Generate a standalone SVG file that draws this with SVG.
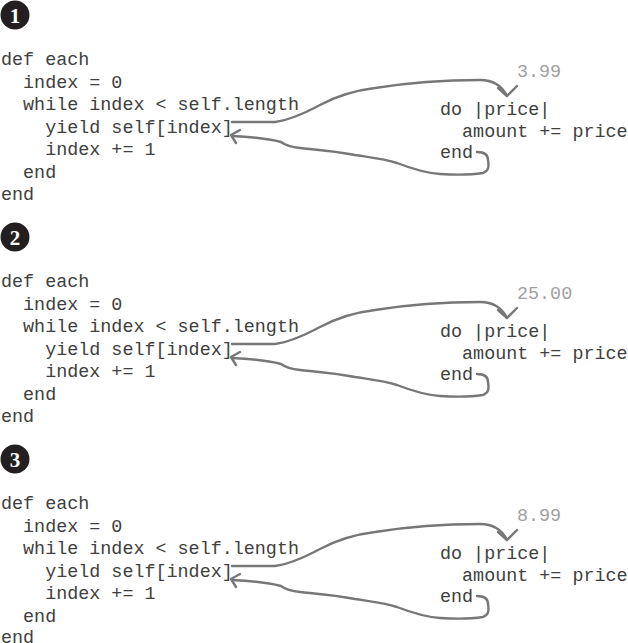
<svg xmlns="http://www.w3.org/2000/svg" width="628" height="643" viewBox="0 0 628 643">
<style>
.code{font-family:"Liberation Mono","Courier New",monospace;font-size:18.4px;fill:#404040}
.val{font-family:"Liberation Mono","Courier New",monospace;font-size:18.4px;fill:#a0a0a0}
.badge{fill:#231f20}
.num{font-family:"Liberation Serif","DejaVu Serif",serif;font-weight:bold;font-size:21px;fill:#fff}
.arr{fill:none;stroke:#777;stroke-width:2.4;stroke-linecap:round;stroke-linejoin:round}
</style>
<defs>
<g id="arrows">
<path class="arr" d="M232,122 L275,122 C290,120 305,113 320,105 C335,97 350,91 375,88 C400,84 440,80 480,80 C495,80 503,88 507,96"/>
<path class="arr" d="M498,88 L507,96 L517,86"/>
<path class="arr" d="M477,152 C484,152 488,155 488,160 C489,166 489,171 483,173 C470,175 455,175 440,174 C425,173 410,168 397,163 C385,159 375,158 355,155 C335,151 320,150 300,148 C290,147 285,145 281,142 C270,139 255,137 232,136"/>
<path class="arr" d="M240,130 L231,135 L236,143"/>
</g>
</defs>
<g id="panel1">
<g id="badge1"><circle class="badge" cx="15" cy="15" r="14.5"/><text class="num" x="15" y="22.5" text-anchor="middle">1</text></g>
<g id="each1"><text class="code" xml:space="preserve"><tspan x="1" y="65">def each</tspan><tspan x="1" y="87.5">  index = 0</tspan><tspan x="1" y="110">  while index &lt; self.length</tspan><tspan x="1" y="132.5">    yield self[index]</tspan><tspan x="1" y="155">    index += 1</tspan><tspan x="1" y="177.5">  end</tspan><tspan x="1" y="200">end</tspan></text></g>
<g id="block1"><text class="code" xml:space="preserve"><tspan x="440" y="114.5">do |price|</tspan><tspan x="440" y="136.5">  amount += price</tspan><tspan x="440" y="158">end</tspan></text></g>
<g id="value1"><text class="val" x="517" y="77">3.99</text></g>
</g>
<g id="panel2" transform="translate(0,222)">
<g id="badge2"><circle class="badge" cx="15" cy="15" r="14.5"/><text class="num" x="15" y="22.5" text-anchor="middle">2</text></g>
<g id="each2"><text class="code" xml:space="preserve"><tspan x="1" y="65">def each</tspan><tspan x="1" y="87.5">  index = 0</tspan><tspan x="1" y="110">  while index &lt; self.length</tspan><tspan x="1" y="132.5">    yield self[index]</tspan><tspan x="1" y="155">    index += 1</tspan><tspan x="1" y="177.5">  end</tspan><tspan x="1" y="200">end</tspan></text></g>
<g id="block2"><text class="code" xml:space="preserve"><tspan x="440" y="114.5">do |price|</tspan><tspan x="440" y="136.5">  amount += price</tspan><tspan x="440" y="158">end</tspan></text></g>
<g id="value2"><text class="val" x="517" y="77">25.00</text></g>
</g>
<g id="panel3" transform="translate(0,443)">
<g id="badge3"><circle class="badge" cx="15" cy="16" r="14.5"/><text class="num" x="15" y="23.5" text-anchor="middle">3</text></g>
<g id="each3"><text class="code" xml:space="preserve"><tspan x="1" y="66">def each</tspan><tspan x="1" y="88.5">  index = 0</tspan><tspan x="1" y="111">  while index &lt; self.length</tspan><tspan x="1" y="133.5">    yield self[index]</tspan><tspan x="1" y="156">    index += 1</tspan><tspan x="1" y="178.5">  end</tspan><tspan x="1" y="199.5">end</tspan></text></g>
<g id="block3"><text class="code" xml:space="preserve"><tspan x="440" y="115.5">do |price|</tspan><tspan x="440" y="137.5">  amount += price</tspan><tspan x="440" y="159">end</tspan></text></g>
<g id="value3"><text class="val" x="517" y="78">8.99</text></g>
</g>
<g id="connectors">
<use href="#arrows"/>
<use href="#arrows" transform="translate(0,222)"/>
<use href="#arrows" transform="translate(0,444)"/>
</g>
</svg>
